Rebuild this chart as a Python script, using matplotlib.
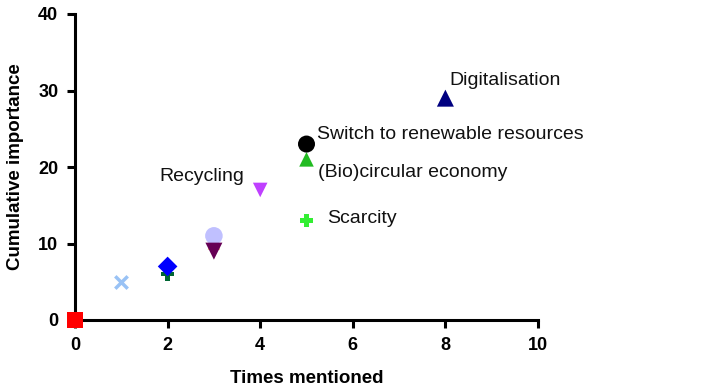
import matplotlib
matplotlib.use("Agg")
import matplotlib.pyplot as plt

# Data
names = ["Origin", "Other A", "Other B", "Other C", "Other D", "Other E", "Other F",
         "Recycling", "Switch to renewable resources", "(Bio)circular economy",
         "Scarcity", "Digitalisation", "Other G", "Other H"]
times = [0, 1, 2, 2, 3, 3, 3, 4, 5, 5, 5, 8, 2, 3]
importance = [0, 5, 6, 7, 11, 10, 9, 17, 23, 21, 13, 29, 7, 10]
markers = ["s", "x", "P", "D", "o", "^", "v", "v", "o", "^", "P", "^", "+", "^"]
colors = ["#FF0000", "#99C2F5", "#006633", "#0000FF", "#C0C0FF", "#F5B070", "#660055",
          "#BF40FF", "#000000", "#22BB22", "#33EE33", "#000080", "#CC2222", "#F5B070"]
sizes = [130, 80, 90, 100, 160, 80, 150, 110, 150, 110, 90, 150, 80, 60]

labels = {
    "Digitalisation": (8.08, 31.3, 'left'),
    "Switch to renewable resources": (5.23, 24.3, 'left'),
    "(Bio)circular economy": (5.25, 19.3, 'left'),
    "Scarcity": (5.44, 13.3, 'left'),
    "Recycling": (3.65, 18.8, 'right'),
}

xticks = [0, 2, 4, 6, 8, 10]
yticks = [0, 10, 20, 30, 40]

plt.rcParams['font.family'] = ['Liberation Sans', 'DejaVu Sans']

fig = plt.figure(figsize=(7.1, 3.92), dpi=100)
ax = fig.add_axes([75/710, 72/392, (538-75)/710, (320-14)/392])

order = [12, 13, 0, 1, 2, 3, 5, 4, 6, 7, 9, 8, 10, 11]
for i in order:
    if markers[i] in ("x", "+"):
        ax.scatter(times[i], importance[i], marker=markers[i], s=sizes[i], c=colors[i],
                   linewidths=2.5, zorder=3, clip_on=False)
    else:
        ax.scatter(times[i], importance[i], marker=markers[i], s=sizes[i], c=colors[i],
                   edgecolors='none', zorder=3, clip_on=False)

for txt, (x, y, ha) in labels.items():
    ax.text(x, y, txt, fontsize=14, ha=ha, va='center', color='#111111')

ax.set_xlim(0, 10)
ax.set_ylim(0, 40)
ax.set_xticks(xticks)
ax.set_yticks(yticks)
for s in ['top', 'right']:
    ax.spines[s].set_visible(False)
for s in ['left', 'bottom']:
    ax.spines[s].set_linewidth(2.2)
ax.tick_params(width=2.2, length=6, labelsize=13, pad=6)
for lab in ax.get_xticklabels() + ax.get_yticklabels():
    lab.set_fontweight('bold')
ax.set_xlabel("Times mentioned", fontsize=13.5, fontweight='bold', labelpad=12)
ax.set_ylabel("Cumulative importance", fontsize=13.5, fontweight='bold', labelpad=10)

fig.savefig("out.png", dpi=100)
